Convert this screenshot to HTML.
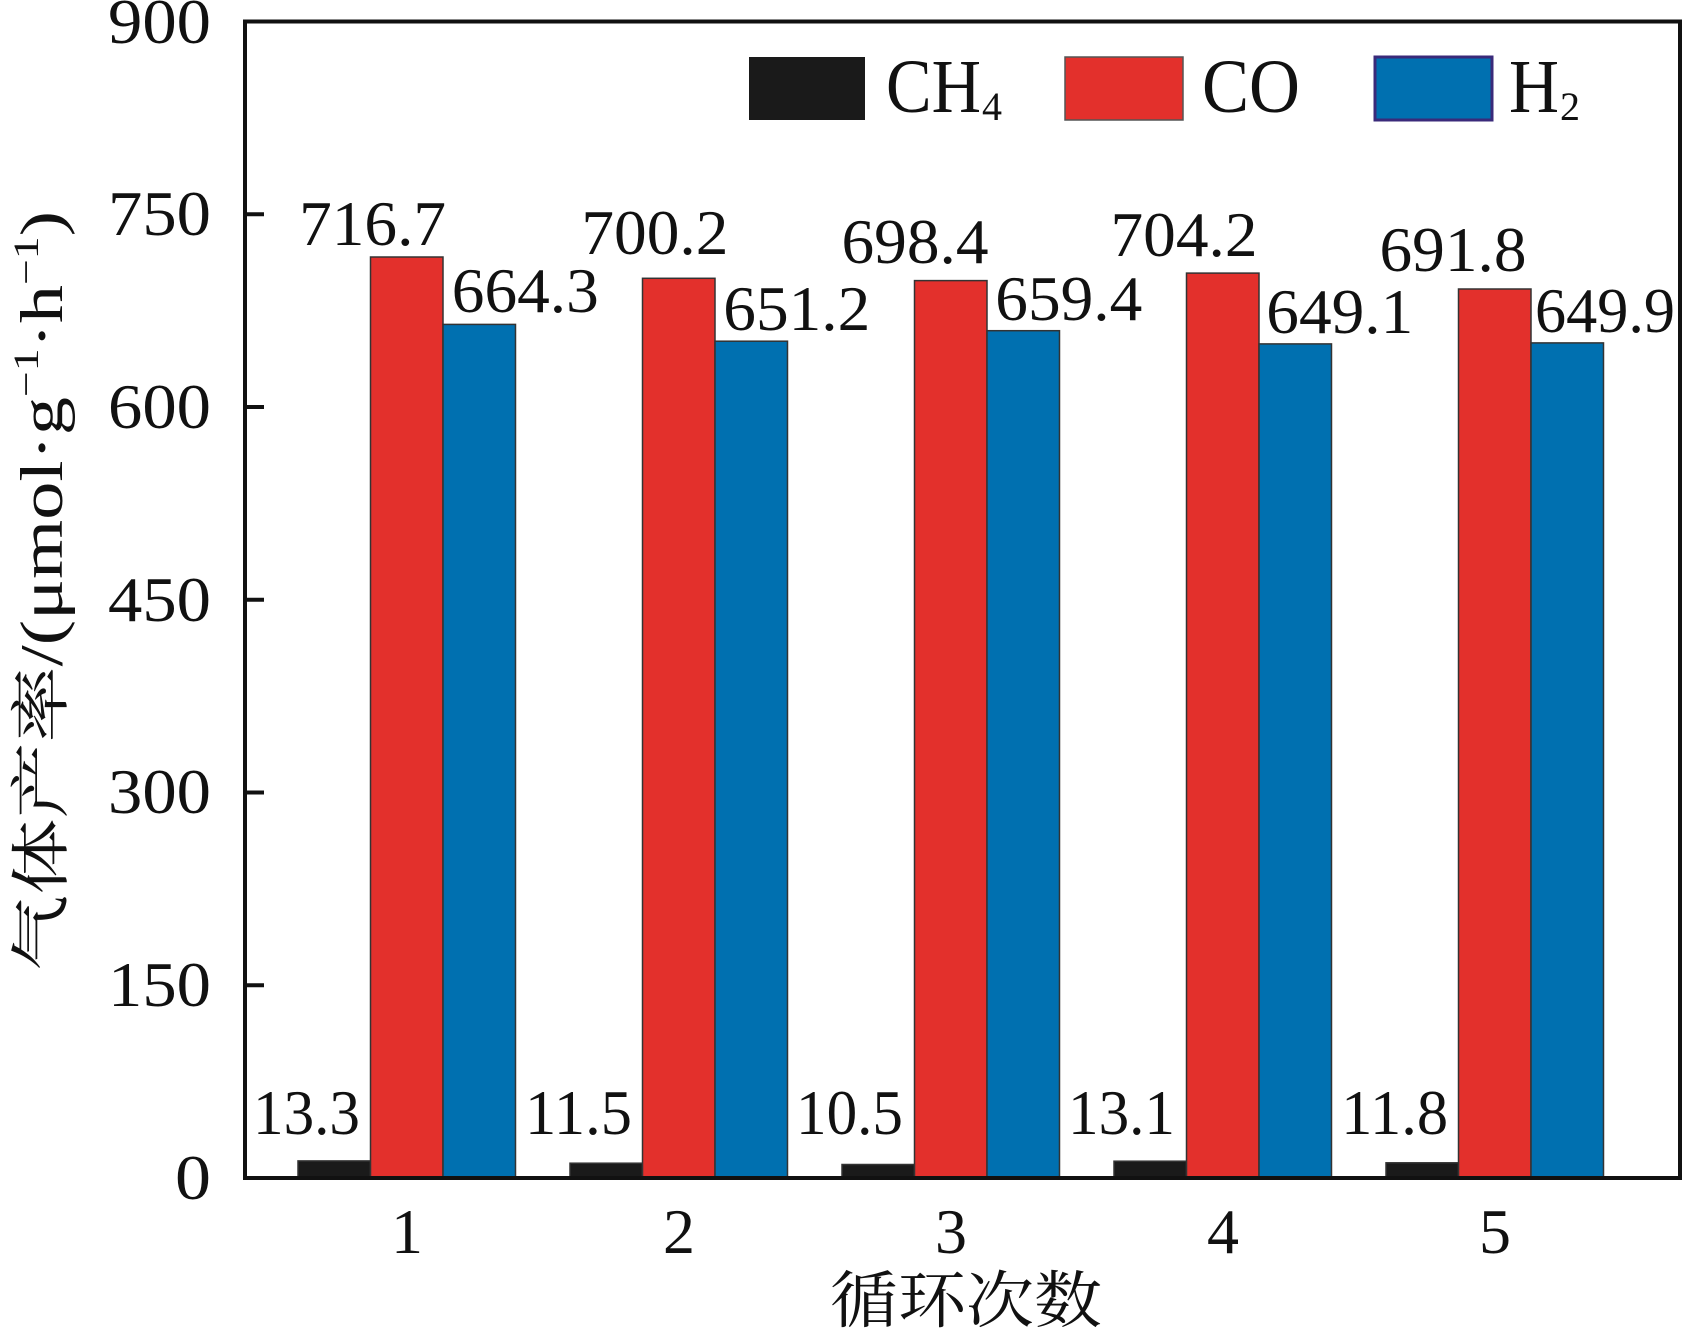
<!DOCTYPE html>
<html><head><meta charset="utf-8"><style>
html,body{margin:0;padding:0;background:#fff;}
svg{display:block;}
svg text{font-family:"Liberation Serif","Times New Roman","Noto Serif CJK SC",serif;fill:#111;}
</style></head><body>
<svg width="1686" height="1337" viewBox="0 0 1686 1337" xmlns="http://www.w3.org/2000/svg" font-family="'Liberation Serif', 'Noto Serif CJK SC', serif">
<g stroke="#333" stroke-width="1.5">
<rect x="298" y="1160.9" width="72.5" height="17.1" fill="#1a1a1a"/>
<rect x="370.5" y="257" width="72.5" height="921" fill="#e3302c"/>
<rect x="443" y="324.4" width="72.5" height="853.6" fill="#0070b0"/>
<rect x="570" y="1163.2" width="72.5" height="14.8" fill="#1a1a1a"/>
<rect x="642.5" y="278.3" width="72.5" height="899.7" fill="#e3302c"/>
<rect x="715" y="341.2" width="72.5" height="836.8" fill="#0070b0"/>
<rect x="842" y="1164.5" width="72.5" height="13.5" fill="#1a1a1a"/>
<rect x="914.5" y="280.6" width="72.5" height="897.4" fill="#e3302c"/>
<rect x="987" y="330.7" width="72.5" height="847.3" fill="#0070b0"/>
<rect x="1114" y="1161.2" width="72.5" height="16.8" fill="#1a1a1a"/>
<rect x="1186.5" y="273.1" width="72.5" height="904.9" fill="#e3302c"/>
<rect x="1259" y="343.9" width="72.5" height="834.1" fill="#0070b0"/>
<rect x="1386" y="1162.8" width="72.5" height="15.2" fill="#1a1a1a"/>
<rect x="1458.5" y="289" width="72.5" height="889" fill="#e3302c"/>
<rect x="1531" y="342.9" width="72.5" height="835.1" fill="#0070b0"/>
</g>
<rect x="245" y="21.5" width="1435" height="1156.5" fill="none" stroke="#111" stroke-width="4"/>
<g stroke="#111" stroke-width="4">
<line x1="245" y1="214.2" x2="264" y2="214.2"/>
<line x1="245" y1="407" x2="264" y2="407"/>
<line x1="245" y1="599.7" x2="264" y2="599.7"/>
<line x1="245" y1="792.5" x2="264" y2="792.5"/>
<line x1="245" y1="985.2" x2="264" y2="985.2"/>
</g>
<g font-size="64" text-anchor="end">
<text x="211" y="43" textLength="103" lengthAdjust="spacingAndGlyphs">900</text>
<text x="211" y="235" textLength="103" lengthAdjust="spacingAndGlyphs">750</text>
<text x="211" y="428" textLength="103" lengthAdjust="spacingAndGlyphs">600</text>
<text x="211" y="621" textLength="103" lengthAdjust="spacingAndGlyphs">450</text>
<text x="211" y="813" textLength="103" lengthAdjust="spacingAndGlyphs">300</text>
<text x="211" y="1006" textLength="103" lengthAdjust="spacingAndGlyphs">150</text>
<text x="211" y="1199" textLength="36" lengthAdjust="spacingAndGlyphs">0</text>
</g>
<g font-size="64" text-anchor="middle">
<text x="407" y="1253">1</text>
<text x="679" y="1253">2</text>
<text x="951" y="1253">3</text>
<text x="1223" y="1253">4</text>
<text x="1495" y="1253">5</text>
</g>
<g font-size="64" text-anchor="middle">
<text x="306.5" y="1134" textLength="107" lengthAdjust="spacingAndGlyphs">13.3</text>
<text x="578.5" y="1134" textLength="107" lengthAdjust="spacingAndGlyphs">11.5</text>
<text x="849.5" y="1134" textLength="107" lengthAdjust="spacingAndGlyphs">10.5</text>
<text x="1121.5" y="1134" textLength="107" lengthAdjust="spacingAndGlyphs">13.1</text>
<text x="1394.6" y="1134" textLength="107" lengthAdjust="spacingAndGlyphs">11.8</text>
<text x="372.6" y="245" textLength="147" lengthAdjust="spacingAndGlyphs">716.7</text>
<text x="654.9" y="254" textLength="147" lengthAdjust="spacingAndGlyphs">700.2</text>
<text x="915" y="263" textLength="147" lengthAdjust="spacingAndGlyphs">698.4</text>
<text x="1184" y="256" textLength="147" lengthAdjust="spacingAndGlyphs">704.2</text>
<text x="1453" y="271" textLength="147" lengthAdjust="spacingAndGlyphs">691.8</text>
<text x="525.3" y="312" textLength="147" lengthAdjust="spacingAndGlyphs">664.3</text>
<text x="796.8" y="330" textLength="147" lengthAdjust="spacingAndGlyphs">651.2</text>
<text x="1068.8" y="320" textLength="147" lengthAdjust="spacingAndGlyphs">659.4</text>
<text x="1339.8" y="333" textLength="147" lengthAdjust="spacingAndGlyphs">649.1</text>
<text x="1605" y="332" textLength="140" lengthAdjust="spacingAndGlyphs">649.9</text>
</g>
<rect x="749" y="57" width="116" height="63" fill="#1a1a1a"/>
<rect x="1065" y="57" width="118" height="63" fill="#e3302c" stroke="#555" stroke-width="1.5"/>
<rect x="1375" y="57" width="117" height="63" fill="#0070b0" stroke="#3a2a7a" stroke-width="3"/>
<g font-size="76">
<text x="886" y="112" textLength="95" lengthAdjust="spacingAndGlyphs">CH</text>
<text x="982" y="120" font-size="40">4</text>
<text x="1202" y="112" textLength="98" lengthAdjust="spacingAndGlyphs">CO</text>
<text x="1509" y="112" textLength="50" lengthAdjust="spacingAndGlyphs">H</text>
<text x="1560" y="120" font-size="40">2</text>
</g>
<text x="966" y="1322" font-size="62" text-anchor="middle" textLength="272" lengthAdjust="spacingAndGlyphs">循环次数</text>
<text transform="translate(62,591) rotate(-90)" font-size="60" text-anchor="middle" textLength="760" lengthAdjust="spacingAndGlyphs">气体产率/(μmol·g<tspan dy="-24" font-size="36">−1</tspan><tspan dy="24">·h</tspan><tspan dy="-24" font-size="36">−1</tspan><tspan dy="24">)</tspan></text>
</svg>
</body></html>
